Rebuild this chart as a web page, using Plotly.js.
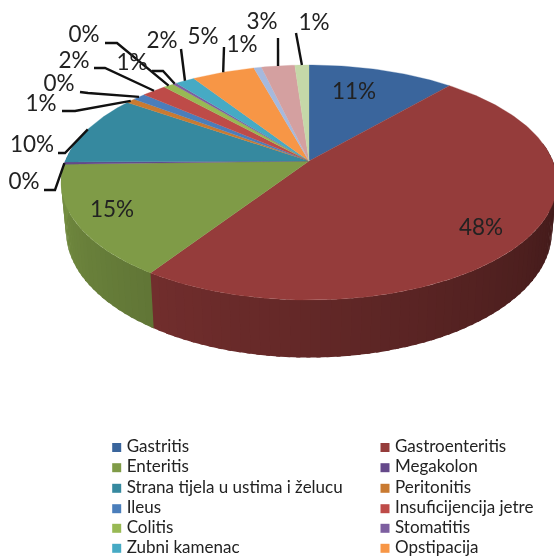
<!DOCTYPE html>
<html><head><meta charset="utf-8">
<script src="https://cdn.plot.ly/plotly-3.0.1.min.js"></script>
<style>html,body{margin:0;padding:0;background:#fff}#c{width:554px;height:557px;filter:blur(0.7px)}</style>
</head><body><div id="c"></div>
<script>
// ---- data (clockwise from 12 o'clock) ----
const categories = ["Gastritis","Gastroenteritis","Enteritis","Megakolon","Strana tijela u ustima i želucu","Peritonitis","Ileus","Insuficijencija jetre","Colitis","Stomatitis","Zubni kamenac","Opstipacija"];
const values = [11.4,48.0,15.3,0.3,9.8,0.7,1.0,1.9,0.8,0.3,1.5,4.9,0.6,2.6,1.1];
const percentLabels = ["11%","48%","15%","0%","10%","1%","0%","2%","0%","1%","2%","5%","1%","3%","1%"];
const colors = ["#3a659c","#953c3b","#7f9b47","#65498a","#36899f","#c97a31","#4a7ebb","#be4b48","#98b954","#7d5fa0","#46aac4","#f79646","#a5b9dd","#d4a0a0","#c5d8a8"];

// ---- layout of labels (screen px) ----
const insideLabelPos = {0:[354,93],1:[481,229],2:[112,211]};
const outsideLabelPos = {3:[24,183],4:[32,146],5:[41,105],6:[59,85],7:[74,62],8:[84,36],9:[132,64],10:[162,42],11:[203,38],12:[242,46],13:[262,23],14:[314,24]};
const leaderElbows = {3:[[44,190],[55,190]],4:[[58,153],[65,153]],5:[[62,111],[75,111]],6:[[80,92],[88,93]],7:[[94,68],[105,68]],8:[[105,43],[117,43]],9:[[152,71],[163,71]],10:[[181,49]],11:[[224,47]],13:[[278,38]],14:[[296,33]]};
const legendRows = [447.5,467.7,488.3,508.7,528.3,548.3];
const legendCols = [116.7,385];

// ---- perspective projection of the pie disc ----
const cx=309, cy=161, kx=243.8, ky=113.6, persp=-0.183, depth=47;
function rimTop(a){const u=Math.sin(a),v=-Math.cos(a),D=1+persp*v;return [cx+kx*u/D,cy+ky*v/D];}
function rimBot(a){const u=Math.sin(a),v=-Math.cos(a),D=1+persp*v;return [cx+0.98*kx*u/D,cy+ky*v/D+depth/D];}
function shade(hex,f){const n=parseInt(hex.slice(1),16);return `rgb(${Math.round((n>>16&255)*f)},${Math.round((n>>8&255)*f)},${Math.round((n&255)*f)})`;}

const total=values.reduce((s,v)=>s+v,0);
const traces=[], faces=[], mids=[];
const overlap=0.8*Math.PI/180;
let acc=0;
values.forEach((val,i)=>{
  const a0=acc/total*2*Math.PI; acc+=val; const a1=acc/total*2*Math.PI;
  mids.push((a0+a1)/2);
  // front wall: narrow strips, each running slightly under the next one
  const n=Math.max(1,Math.ceil((a1-a0)/(2*Math.PI/180)));
  for(let k=0;k<n;k++){
    const s=a0+(a1-a0)*k/n,e=a0+(a1-a0)*(k+1)/n,m=(s+e)/2;
    if(Math.cos(m)>0.15) continue;
    const deg=m*180/Math.PI, f=Math.min(1,0.40+(deg-90)*0.00293);
    const ee=e+overlap;
    const p=[rimTop(s),rimTop(ee),rimBot(ee),rimBot(s),rimTop(s)];
    traces.push({type:'scatter',mode:'none',x:p.map(q=>q[0]),y:p.map(q=>q[1]),fill:'toself',fillcolor:shade(colors[i],f),hoverinfo:'skip',showlegend:false});
  }
  // top face
  const xs=[cx],ys=[cy],m=Math.max(2,Math.ceil((a1-a0)/(1*Math.PI/180)));
  for(let k=0;k<=m;k++){const q=rimTop(a0+(a1-a0)*k/m);xs.push(q[0]);ys.push(q[1]);}
  xs.push(cx);ys.push(cy);
  faces.push({type:'scatter',mode:'lines',x:xs,y:ys,fill:'toself',fillcolor:colors[i],line:{color:colors[i],width:0.3},name:categories[i]||'',hoverinfo:'skip',showlegend:false});
});
traces.push(...faces);

// leader lines end on the rim at the middle of their slice
const lx=[],ly=[];
Object.keys(leaderElbows).forEach(i=>{
  leaderElbows[i].forEach(p=>{lx.push(p[0]);ly.push(p[1]);});
  const e=rimTop(mids[i]);lx.push(e[0]);ly.push(e[1]);lx.push(null);ly.push(null);
});
traces.push({type:'scatter',mode:'lines',x:lx,y:ly,line:{color:'#111',width:2.4},hoverinfo:'skip',showlegend:false});

// percent labels
const allPos=Object.assign({},insideLabelPos,outsideLabelPos), idx=Object.keys(allPos);
traces.push({type:'scatter',mode:'text',x:idx.map(i=>allPos[i][0]),y:idx.map(i=>allPos[i][1]),text:idx.map(i=>percentLabels[i]),
  textposition:'middle center',textfont:{family:'Lato, "Open Sans", sans-serif',size:22.5,color:'#222'},hoverinfo:'skip',showlegend:false});

// legend, two columns
const mx=[],my=[],mc=[],tx=[];
categories.forEach((c,i)=>{mx.push(legendCols[i%2]);my.push(legendRows[Math.floor(i/2)]);mc.push(colors[i]);tx.push(c);});
traces.push({type:'scatter',mode:'markers',x:mx,y:my,marker:{symbol:'square',size:9,color:mc},hoverinfo:'skip',showlegend:false});
traces.push({type:'scatter',mode:'text',x:mx.map(v=>v+10),y:my,text:tx,textposition:'middle right',
  textfont:{family:'Lato, "Open Sans", sans-serif',size:17,color:'#222'},hoverinfo:'skip',showlegend:false});

Plotly.newPlot('c',traces,{
  width:554,height:557,margin:{l:0,r:0,t:0,b:0},paper_bgcolor:'#fff',plot_bgcolor:'#fff',showlegend:false,
  xaxis:{range:[0,554],visible:false,fixedrange:true},
  yaxis:{range:[557,0],visible:false,fixedrange:true}
},{displayModeBar:false,staticPlot:true});
</script></body></html>
